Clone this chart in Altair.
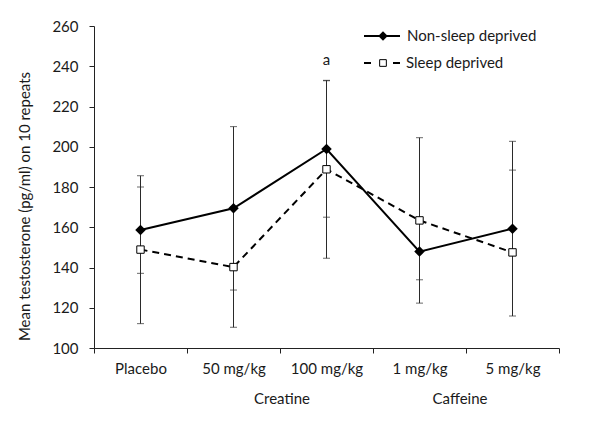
import altair as alt
import pandas as pd

categories = ["Placebo", "50 mg/kg", "100 mg/kg", "1 mg/kg", "5 mg/kg"]
series_names = ["Non-sleep deprived", "Sleep deprived"]

non_sleep = [158.6, 169.4, 198.9, 147.9, 159.3]
non_sleep_lo = [137.1, 128.8, 165.0, 133.9, 115.9]
non_sleep_hi = [180.0, 210.0, 232.8, 161.9, 202.7]

sleep = [148.9, 140.2, 188.8, 163.4, 147.5]
sleep_lo = [112.1, 110.3, 144.6, 122.3, 147.5]
sleep_hi = [185.6, 170.1, 233.0, 204.5, 188.4]

group_labels = ["Creatine", "Caffeine"]
group_anchor = ["50 mg/kg", "1 mg/kg"]

sig_label = ["a"]
sig_cat = ["100 mg/kg"]
sig_value = [243.0]

y_ticks = [100, 120, 140, 160, 180, 200, 220, 240, 260]

FONT = "Lato"

rows = []
for i, c in enumerate(categories):
    rows.append({"cat": c, "series": series_names[0], "value": non_sleep[i],
                 "lo": non_sleep_lo[i], "hi": non_sleep_hi[i]})
for i, c in enumerate(categories):
    rows.append({"cat": c, "series": series_names[1], "value": sleep[i],
                 "lo": sleep_lo[i], "hi": sleep_hi[i]})
df = pd.DataFrame(rows)

x_scale = alt.Scale(domain=categories, type="band", paddingInner=0, paddingOuter=0)
y_scale = alt.Scale(domain=[100, 260], nice=False, zero=False)

x_axis = alt.Axis(title=None, tickBand="extent", labelAngle=0, tickSize=5,
                  labelPadding=8, labelFontSize=15, labelFont=FONT,
                  labelColor="#1a1a1a", domainColor="#222222", tickColor="#222222",
                  grid=False)
y_axis = alt.Axis(title="Mean testosterone (pg/ml) on 10 repeats", values=y_ticks,
                  tickSize=5, labelPadding=11, labelFontSize=15, labelFont=FONT,
                  labelColor="#1a1a1a", titleFont=FONT, titleFontSize=15,
                  titleFontWeight="normal", titleColor="#1a1a1a",
                  titleX=-70, titleY=180, titleAngle=270, titleBaseline="middle",
                  titleAlign="center",
                  domainColor="#222222", tickColor="#222222", grid=False)

X = alt.X("cat:N", scale=x_scale, sort=categories, axis=x_axis)
Y = alt.Y("value:Q", scale=y_scale, axis=y_axis)

base = alt.Chart(df)

ERR = "#2a2a2a"
err = base.mark_rule(color=ERR, strokeWidth=1).encode(
    x=X, y=alt.Y("lo:Q", scale=y_scale, axis=y_axis), y2="hi:Q")
cap_lo = base.mark_tick(orient="horizontal", color=ERR, size=7, thickness=1).encode(
    x=X, y=alt.Y("lo:Q", scale=y_scale, axis=y_axis))
cap_hi = base.mark_tick(orient="horizontal", color=ERR, size=7, thickness=1).encode(
    x=X, y=alt.Y("hi:Q", scale=y_scale, axis=y_axis))

line_non = base.transform_filter(alt.datum.series == series_names[0]).mark_line(
    color="black", strokeWidth=2).encode(x=X, y=Y)
line_sleep = base.transform_filter(alt.datum.series == series_names[1]).mark_line(
    color="black", strokeWidth=2, strokeDash=[7, 5]).encode(x=X, y=Y)

pts_non = base.transform_filter(alt.datum.series == series_names[0]).mark_point(
    shape="diamond", filled=True, color="black", size=110, opacity=1).encode(x=X, y=Y)
pts_sleep = base.transform_filter(alt.datum.series == series_names[1]).mark_point(
    shape="square", filled=True, fill="white", stroke="black", strokeWidth=1,
    size=55, opacity=1).encode(x=X, y=Y)

sig_df = pd.DataFrame({"cat": sig_cat, "label": sig_label, "value": sig_value})
sig = alt.Chart(sig_df).mark_text(font=FONT, fontSize=15, color="#1a1a1a",
                                  baseline="middle").encode(x=X, y=Y, text="label:N")

grp_df = pd.DataFrame({"cat": group_anchor, "label": group_labels})
grp1 = alt.Chart(grp_df).transform_filter(alt.datum.label == group_labels[0]).mark_text(
    font=FONT, fontSize=15, color="#1a1a1a", baseline="middle", dx=2).encode(
    x=alt.X("cat:N", scale=x_scale, sort=categories, axis=x_axis, bandPosition=1),
    y=alt.value(373), text="label:N")
grp2 = alt.Chart(grp_df).transform_filter(alt.datum.label == group_labels[1]).mark_text(
    font=FONT, fontSize=15, color="#1a1a1a", baseline="middle", dx=-6).encode(
    x=alt.X("cat:N", scale=x_scale, sort=categories, axis=x_axis, bandPosition=1),
    y=alt.value(373), text="label:N")

# manual legend
leg_df = pd.DataFrame({"label": series_names})
one = alt.Chart(pd.DataFrame({"k": [0]}))
leg_line1 = one.mark_rule(color="black", strokeWidth=2).encode(
    x=alt.value(270), x2=alt.value(306), y=alt.value(10))
leg_pt1 = one.mark_point(shape="diamond", filled=True, color="black", size=90,
                         opacity=1).encode(x=alt.value(289), y=alt.value(10))
leg_dash_a = one.mark_rule(color="black", strokeWidth=2).encode(
    x=alt.value(270), x2=alt.value(277), y=alt.value(37))
leg_dash_b = one.mark_rule(color="black", strokeWidth=2).encode(
    x=alt.value(299), x2=alt.value(306), y=alt.value(37))
leg_pt2 = one.mark_point(shape="square", filled=True, fill="white", stroke="black",
                         strokeWidth=1, size=45, opacity=1).encode(
    x=alt.value(289), y=alt.value(37))
leg_txt1 = alt.Chart(leg_df).transform_filter(alt.datum.label == series_names[0]).mark_text(
    font=FONT, fontSize=15, color="#1a1a1a", align="left", baseline="middle").encode(
    x=alt.value(313), y=alt.value(10), text="label:N")
leg_txt2 = alt.Chart(leg_df).transform_filter(alt.datum.label == series_names[1]).mark_text(
    font=FONT, fontSize=15, color="#1a1a1a", align="left", baseline="middle").encode(
    x=alt.value(312), y=alt.value(37), text="label:N")

chart = alt.layer(
    err, cap_lo, cap_hi, line_non, line_sleep, pts_non, pts_sleep, sig, grp1, grp2,
    leg_line1, leg_pt1, leg_dash_a, leg_dash_b, leg_pt2, leg_txt1, leg_txt2
).properties(
    width=465, height=322,
    padding={"left": 86, "top": 18, "right": 33, "bottom": 66},
    autosize=alt.AutoSizeParams(type="none"),
    background="white",
).configure_view(stroke=None)

chart.save("out.html", embed_options={"renderer": "svg", "actions": False})
